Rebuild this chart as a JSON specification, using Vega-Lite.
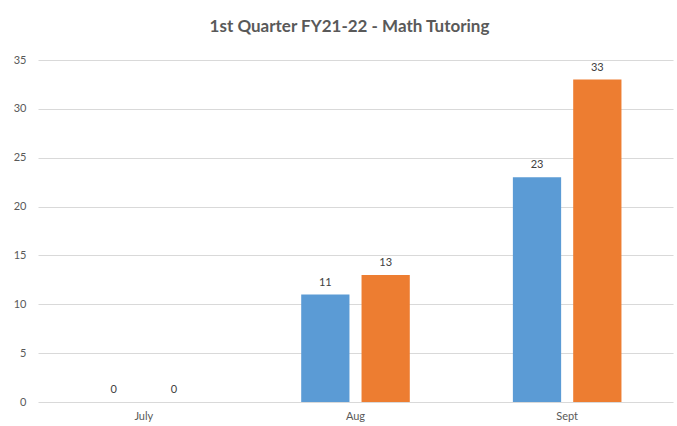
{
  "$schema": "https://vega.github.io/schema/vega-lite/v6.json",
  "width": 635,
  "height": 342,
  "autosize": "none",
  "padding": {"left": 38, "top": 60, "right": 4, "bottom": 24},
  "background": "white",
  "title": {"text": "1st Quarter FY21-22 - Math Tutoring", "font": "Lato", "fontSize": 17, "fontWeight": "bold", "color": "#595959", "offset": 18, "anchor": "middle", "dx": -6},
  "data": {"values": [
    {"month": "July", "series": "Series1", "value": 0},
    {"month": "July", "series": "Series2", "value": 0},
    {"month": "Aug", "series": "Series1", "value": 11},
    {"month": "Aug", "series": "Series2", "value": 13},
    {"month": "Sept", "series": "Series1", "value": 23},
    {"month": "Sept", "series": "Series2", "value": 33}
  ]},
  "encoding": {
    "x": {"field": "month", "type": "nominal", "sort": ["July", "Aug", "Sept"],
      "scale": {"paddingInner": 0.487, "paddingOuter": 0.2435},
      "axis": {"title": null, "labelAngle": 0, "domain": false, "ticks": false, "labelFont": "Lato", "labelFontSize": 11, "labelColor": "#595959", "labelPadding": 8, "grid": false}},
    "xOffset": {"field": "series", "type": "nominal", "scale": {"paddingInner": 0.2, "paddingOuter": 0}},
    "y": {"field": "value", "type": "quantitative", "scale": {"domain": [0, 35]},
      "axis": {"title": null, "values": [0, 5, 10, 15, 20, 25, 30, 35], "domain": false, "ticks": false, "labelFont": "Lato", "labelFontSize": 11, "labelColor": "#595959", "labelPadding": 12, "gridColor": "#d9d9d9", "gridWidth": 1}}
  },
  "layer": [
    {"mark": {"type": "bar"},
     "encoding": {"color": {"field": "series", "type": "nominal", "scale": {"range": ["#5B9BD5", "#ED7D31"]}, "legend": null}}},
    {"mark": {"type": "text", "baseline": "bottom", "dy": -7, "font": "Lato", "fontSize": 11, "fill": "#404040"},
     "encoding": {"text": {"field": "value", "type": "quantitative"}}}
  ],
  "config": {"view": {"stroke": null}}
}
